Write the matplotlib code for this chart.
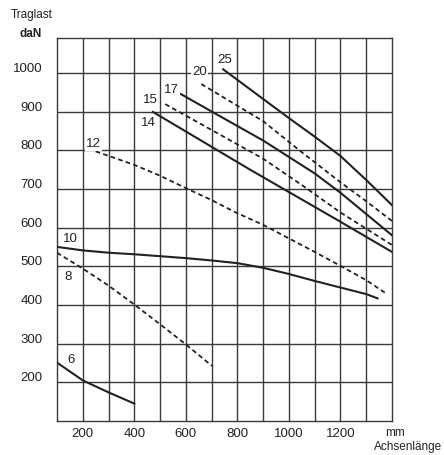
import matplotlib
matplotlib.use("Agg")
import matplotlib.pyplot as plt
from matplotlib.transforms import blended_transform_factory

plt.rcParams['font.family'] = ['Liberation Sans', 'DejaVu Sans']

# ---- data (Achsenlänge mm -> Traglast daN) ----
x6 = [100, 200, 300, 400]
y6 = [251, 205, 174, 145]
x8 = [100, 200, 300, 400, 500, 600, 702]
y8 = [535, 494, 450, 401, 350, 298, 242]
x10 = [100, 200, 300, 400, 500, 600, 700, 800, 900, 1000, 1100, 1200, 1300, 1344]
y10 = [550, 541, 535, 531, 526, 521, 515, 508, 496, 480, 462, 445, 428, 417]
x12 = [250, 400, 500, 600, 700, 800, 900, 1000, 1100, 1200, 1300, 1376]
y12 = [797, 762, 734, 702, 671, 637, 607, 572, 537, 501, 464, 430]
x14 = [472, 851, 1200, 1400]
y14 = [899, 749, 615, 537]
x15 = [520, 900, 1050, 1200, 1400]
y15 = [919, 778, 710, 639, 555]
x17 = [581, 700, 900, 1100, 1200, 1300, 1400]
y17 = [945, 900, 825, 740, 690, 635, 580]
x20 = [660, 900, 1040, 1200, 1300, 1400]
y20 = [971, 875, 800, 717, 668, 617]
x25 = [745, 929, 1000, 1100, 1200, 1300, 1400]
y25 = [1009, 918, 883, 835, 785, 723, 658]

series = [
    ("6", x6, y6, "solid", (153, 257)),
    ("8", x8, y8, "dashed", (144, 471)),
    ("10", x10, y10, "solid", (151, 570)),
    ("12", x12, y12, "dashed", (241, 817)),
    ("14", x14, y14, "solid", (455, 870)),
    ("15", x15, y15, "dashed", (462, 930)),
    ("17", x17, y17, "solid", (544, 956)),
    ("20", x20, y20, "dashed", (654, 1001)),
    ("25", x25, y25, "solid", (750, 1032)),
]

x_ticks = [200, 400, 600, 800, 1000, 1200]
y_ticks = [200, 300, 400, 500, 600, 700, 800, 900, 1000]

fig = plt.figure(figsize=(4.44, 4.55), dpi=100)
ax = fig.add_axes([57/444, 1 - 421/455, (392-57)/444, (421-38)/455])
ax.set_xlim(100, 1400)
ax.set_ylim(100, 1090)

gc = '#3a3a3a'
for gx in range(200, 1400, 100):
    ax.axvline(gx, color=gc, lw=1.0, zorder=1)
for gy in range(200, 1100, 100):
    ax.axhline(gy, color=gc, lw=1.0, zorder=1)
for s in ax.spines.values():
    s.set_color(gc)
    s.set_linewidth(1.0)

ax.set_xticks([])
ax.set_yticks([])

for name, xs, ys, style, (lx, ly) in series:
    if style == "dashed":
        ax.plot(xs, ys, color='#222222', lw=1.3, dashes=(2.6, 1.8), zorder=3)
    else:
        ax.plot(xs, ys, color='#222222', lw=1.5, zorder=3)
    ax.text(lx, ly, name, fontsize=9.5, ha='center', va='center', color='#222222',
            zorder=4, bbox=dict(boxstyle='square,pad=0.08', fc='white', ec='none'))

ty = blended_transform_factory(ax.transAxes, ax.transData)
for v in y_ticks:
    ax.text(-0.042, v + 10, str(v), transform=ty, ha='right', va='center',
            fontsize=9.5, color='#222222')
tx = blended_transform_factory(ax.transData, ax.transAxes)
for v in x_ticks:
    ax.text(v, -0.018, str(v), transform=tx, ha='center', va='top',
            fontsize=9.5, color='#222222')

fig.text(32/444, 1 - 15/455, "Traglast", ha='center', va='center', fontsize=8.5, color='#222222')
fig.text(31/444, 1 - 34/455, "daN", ha='center', va='center', fontsize=8.5, color='#222222',
         fontweight='bold')
fig.text(395/444, 1 - 433/455, "mm", ha='center', va='center', fontsize=8.5, color='#222222')
fig.text(408/444, 1 - 447/455, "Achsenlänge", ha='center', va='center', fontsize=8.5, color='#222222')

fig.savefig("out.png", dpi=100)
